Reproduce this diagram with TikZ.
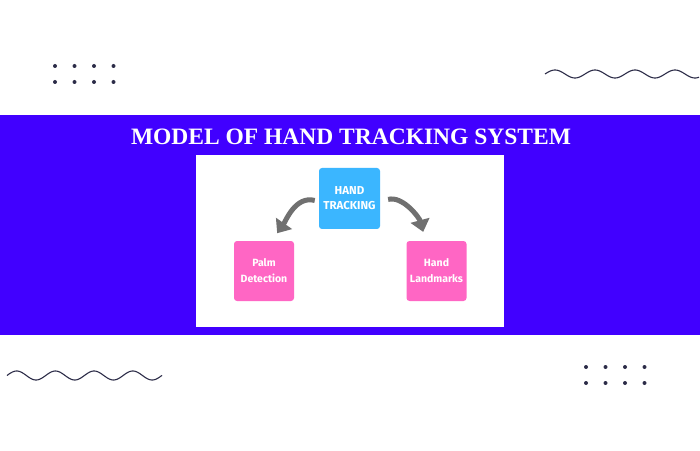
\documentclass[tikz,border=0pt]{standalone}
\usepackage{fontspec}
\usetikzlibrary{arrows.meta}
\newfontfamily\titlefont{Liberation Serif}
\newfontfamily\boxfont{Fira Sans}
\definecolor{bandblue}{HTML}{4100FF}
\definecolor{skyblue}{HTML}{3BB6FF}
\definecolor{hotpink}{HTML}{FF66C4}
\definecolor{arrowgray}{HTML}{707070}
\definecolor{inkdark}{HTML}{2C2C48}
\begin{document}
\begin{tikzpicture}[x=1pt,y=1pt,thick,
    blue node/.style={rectangle,rounded corners=3pt,fill=skyblue,minimum size=61pt,inner sep=0pt,align=center,text=white,font=\boxfont\bfseries\fontsize{11.5}{15}\selectfont},
    pink node/.style={rectangle,rounded corners=3pt,fill=hotpink,minimum size=60pt,inner sep=0pt,align=center,text=white,font=\boxfont\bfseries\fontsize{10.5}{16}\selectfont},
    big arrow/.style={arrowgray,line width=5pt,-{Triangle[width=19pt,length=12pt]}},
    dot/.style={circle,fill=inkdark,inner sep=0pt,minimum size=4pt},
    wave/.style={inkdark,line width=1.1pt}]
                \useasboundingbox[fill=white] (0,0) rectangle (700,450);
                \fill[bandblue] (0,115) rectangle (700,335);
                \fill[white] (196,123) rectangle (504,295);

                \node[text=white,font=\titlefont\bfseries\fontsize{23.5}{23.5}\selectfont] at (351, 313) (title) {MODEL OF HAND TRACKING SYSTEM};

                \node[blue node] at (349.5, 251.5) (track) {HAND\\TRACKING};
                \node[pink node] at (264, 179) (palm) {Palm\\Detection};
                \node[pink node] at (436.5, 179) (landmarks) {Hand\\Landmarks};

                \path[big arrow] ([yshift=-3pt]track.west) edge[out=165, in=55, shorten <=4pt, shorten >=9pt] ([xshift=8pt]palm.north);
                \path[big arrow] ([yshift=-3pt]track.east) edge[out=15, in=105, shorten <=8pt, shorten >=9pt] ([xshift=-11pt]landmarks.north);

                % dots
                \foreach \x in {55,74.5,94,113.5}
                    \foreach \y in {384,368}
                        \node[dot] at (\x,\y) {};
                \foreach \x in {586,605.5,625,644.5}
                    \foreach \y in {83,67}
                        \node[dot] at (\x,\y) {};

                % waves
                \draw[wave] plot[domain=545:699,samples=150,smooth] (\x,{376+4*sin((\x-545)*9)});
                \draw[wave] plot[domain=7:162,samples=150,smooth] (\x,{74.5+4.5*sin((\x-7)*9.3)});
            \end{tikzpicture}
\end{document}
